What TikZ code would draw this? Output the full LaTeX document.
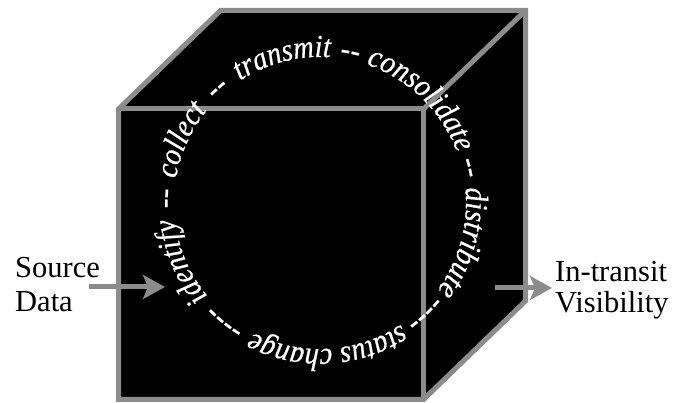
\documentclass[tikz,border=0pt]{standalone}
\usepackage{fontspec}
\setmainfont{Liberation Serif}
\newfontfamily\ringfam{Liberation Serif}[FakeStretch=0.89,FakeBold=0.6]
\usetikzlibrary{decorations.text,arrows.meta,calc}
\definecolor{edgegray}{RGB}{140,140,140}
\newcommand\ringfont{\color{white}\ringfam\itshape\fontsize{32}{32}\selectfont}
\newcommand\ringword[2]{\path[decorate,decoration={text along path,text align=center,text={|\ringfont|#2}}] ([shift={(#1+70:146pt)}]C) arc[start angle=#1+70,end angle=#1-70,radius=146pt];}
\begin{document}
\begin{tikzpicture}[x=1pt,y=1pt,
  face/.style={fill=black,draw=edgegray,line width=5pt,line join=miter},
  edge/.style={draw=edgegray,line width=5pt},
  arr/.style={draw=edgegray,line width=5pt,-{Stealth[length=22pt,width=24pt,inset=5pt]}},
  lbl/.style={align=left,inner sep=0pt}]
\useasboundingbox (0,0) rectangle (673,403);
% cube corners
\coordinate (FBL) at (118.5,3.5);
\coordinate (FTL) at (118.5,294);
\coordinate (FTR) at (423.5,294);
\coordinate (FBR) at (423.5,3.5);
\coordinate (BTL) at (220.5,392.5);
\coordinate (BTR) at (525.5,392.5);
\coordinate (BBR) at (525.5,102);
\draw[face] (FBL) -- (FTL) -- (BTL) -- (BTR) -- (BBR) -- (FBR) -- cycle;
\draw[edge] (FTL) -- (FTR) -- (FBR);
\draw[edge] (FTR) -- (BTR);
% ring of words
\coordinate (C) at (320,200);
\ringword{203}{identify}
\ringword{178.3}{--}
\ringword{155.5}{collect}
\ringword{131.8}{--}
\ringword{104.5}{transmit}
\ringword{78.6}{--}
\ringword{45.8}{consolidate}
\ringword{13.3}{--}
\ringword{-15.5}{distribute}
\ringword{-46.5}{----}
\ringword{-87}{status change}
\ringword{-128.7}{----}
% labels
\node[lbl,anchor=base west,font=\fontsize{30.5}{34}\selectfont] (src) at (15,91) {Source\\Data};
\node[lbl,anchor=base west,font=\fontsize{30.5}{31.5}\selectfont] (dst) at (555,90) {In-transit\\Visibility};
% arrows
\coordinate (srcout) at (89,116);
\coordinate (inL) at (165,116);
\coordinate (outR) at (495,115);
\coordinate (dstin) at (552,115);
\draw[arr] (srcout) -- (inL);
\draw[arr] (outR) -- (dstin);
\end{tikzpicture}
\end{document}
